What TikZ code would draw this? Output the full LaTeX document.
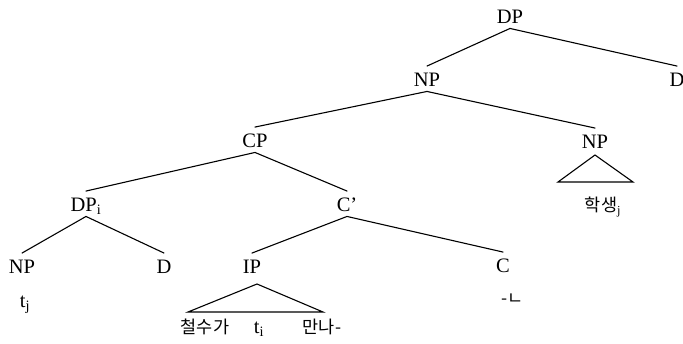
\documentclass[tikz,border=0pt]{standalone}
\usepackage{fontspec}
\setmainfont{Liberation Serif}
\newfontfamily\kr{Noto Sans CJK KR}
\begin{document}
\begin{tikzpicture}[x=1pt,y=-1pt,
  lab/.style={font=\fontsize{20.5}{22}\selectfont, inner xsep=1pt, inner ysep=0pt, text height=13.5pt, text depth=0pt},
  kor/.style={font=\kr\fontsize{17.5}{19}\selectfont, inner sep=1pt},
  edge/.style={line width=1.1pt, line cap=round}]
\useasboundingbox (0,0) rectangle (683,343);
\node[lab] (dp) at (510,17) {DP};
\node[lab] (np) at (427,80) {NP};
\node[lab] (dr) at (677,80) {D};
\node[lab] (cp) at (255,141) {CP};
\node[lab] (npr) at (595,142) {NP};
\node[kor] (hak) at (603,207) {학생{\rmfamily\textsubscript{j}}};
\node[lab] (dpi) at (86,205) {DP\textsubscript{i}};
\node[lab] (cbar) at (347,205) {C’};
\node[lab] (np2) at (22,267) {NP};
\node[lab] (d2) at (164,267) {D};
\node[lab] (ip) at (252,267) {IP};
\node[lab] (c) at (503,266) {C};
\node[lab] (tj) at (25,301) {t\textsubscript{j}};
\node[kor] (n) at (513,299) {-ㄴ};
\node[kor] (cs) at (205,327) {철수가};
\node[lab] (ti) at (259,327) {t\textsubscript{i}};
\node[kor] (mn) at (322,327) {만나-};
\newcommand\treeedge[2]{\draw[edge] ([yshift=-4.5pt]#1.south) -- ([yshift=7pt]#2.north);}
\treeedge{dp}{np}
\treeedge{dp}{dr}
\treeedge{np}{cp}
\treeedge{np}{npr}
\treeedge{cp}{dpi}
\treeedge{cp}{cbar}
\treeedge{dpi}{np2}
\treeedge{dpi}{d2}
\treeedge{cbar}{ip}
\treeedge{cbar}{c}
\draw[edge, line join=miter] ([yshift=-13pt]npr.center) -- ++(-37,27) -- ++(75,0) -- cycle;
\draw[edge, line join=miter] ([xshift=5pt,yshift=-17pt]ip.center) -- ++(-69,28) -- ++(135,0) -- cycle;
\end{tikzpicture}
\end{document}
